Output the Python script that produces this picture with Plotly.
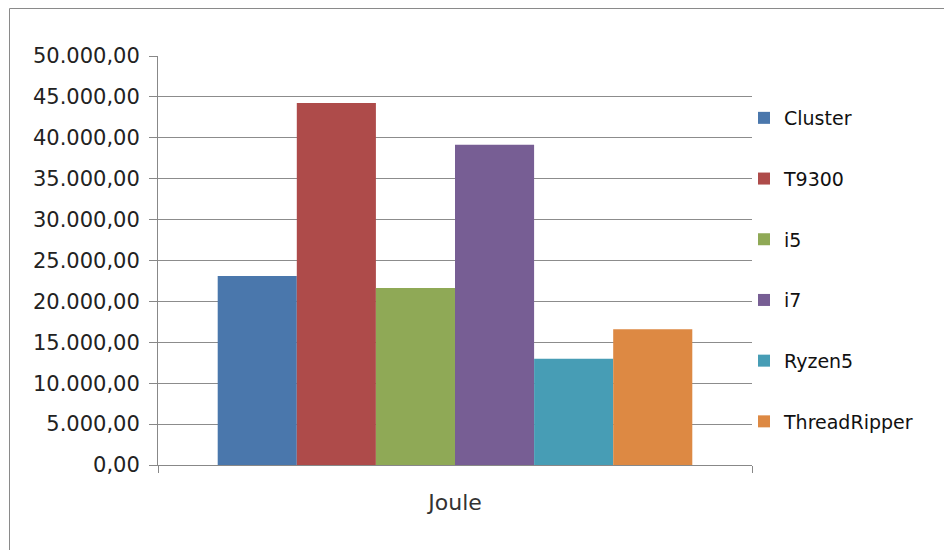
import plotly.graph_objects as go

categories = ["Joule"]
series_names = ["Cluster", "T9300", "i5", "i7", "Ryzen5", "ThreadRipper"]
series_values = [23100, 44250, 21650, 39150, 13000, 16600]
colors = ["#4A77AC", "#AE4B4A", "#8FA956", "#775E94", "#479DB5", "#DD8943"]
y_ticks = [0, 5000, 10000, 15000, 20000, 25000, 30000, 35000, 40000, 45000, 50000]

fig = go.Figure()
for i, (name, val, col) in enumerate(zip(series_names, series_values, colors)):
    fig.add_trace(go.Bar(
        x=categories, y=[val], name=name, legendgroup=name,
        marker=dict(color=col, line=dict(width=0)),
    ))

# page body has an 8px offset
OFF = 8
L, T = 158 - OFF, 56 - OFF
pw, ph = 594, 409
W, H = 952, 550
R = W - L - pw
B = H - T - ph

def px_x(p):  # reference pixel -> paper x
    return (p - OFF - L) / pw

def px_y(p):  # reference pixel -> paper y
    return (T + ph - (p - OFF)) / ph

fig.update_layout(
    width=W, height=H,
    margin=dict(l=L, r=R, t=T, b=B),
    paper_bgcolor="white", plot_bgcolor="white",
    separators=",.",
    barmode="group", bargap=0.201, bargroupgap=0,
    font=dict(family="DejaVu Sans", size=20, color="#222222"),
    showlegend=True,
    legend=dict(
        x=px_x(744), xanchor="left",
        y=px_y(99), yanchor="top",
        font=dict(family="DejaVu Sans", size=19, color="#111111"),
        tracegroupgap=33, itemsizing="constant",
        bgcolor="rgba(0,0,0,0)",
    ),
    xaxis=dict(
        showgrid=False, showline=True, linecolor="#888888", linewidth=1,
        ticks="outside", tickson="boundaries", ticklen=7, tickcolor="#888888",
        ticklabelstandoff=18,
        tickfont=dict(family="DejaVu Sans", size=22, color="#333333"),
    ),
    yaxis=dict(
        range=[0, 50000], tickvals=y_ticks, tickformat=",.2f",
        showgrid=True, gridcolor="#8c8c8c", gridwidth=1,
        showline=True, linecolor="#888888", linewidth=1,
        ticks="outside", ticklen=8, tickcolor="#888888",
        zeroline=False, ticklabelstandoff=5,
        tickfont=dict(family="DejaVu Sans", size=21, color="#222222"),
    ),
    shapes=[dict(
        type="rect", xref="paper", yref="paper",
        x0=px_x(9.5), x1=px_x(975),
        y0=px_y(575), y1=px_y(8.5),
        line=dict(color="#8a8a8a", width=1), fillcolor="rgba(0,0,0,0)", layer="below",
    )],
)

fig.write_html("out.html")
